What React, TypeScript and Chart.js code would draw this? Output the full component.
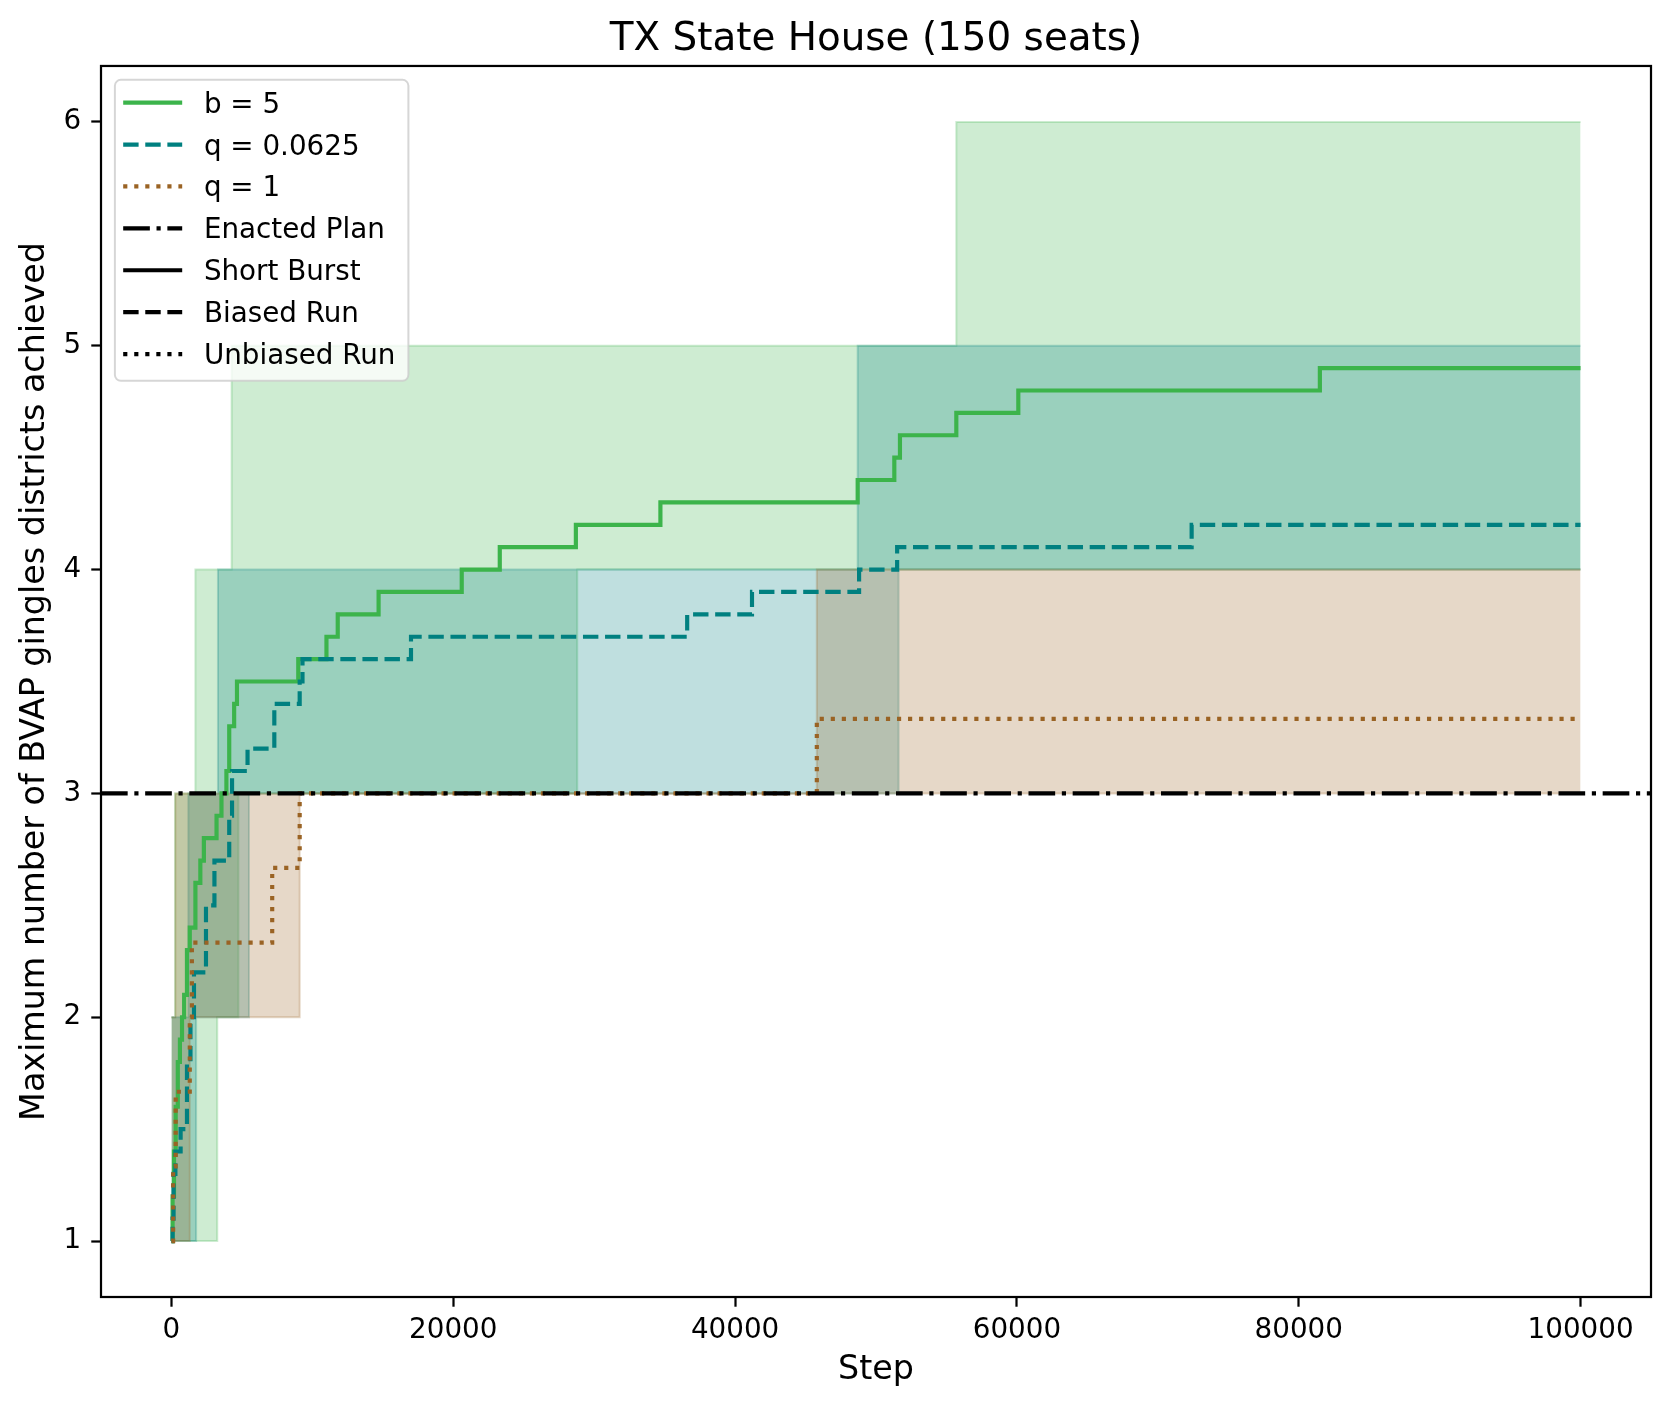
import React, { useEffect, useRef } from "react";
import { Chart, registerables } from "chart.js";

Chart.register(...registerables);

// Running means over the runs; every value holds until the next step
const burstSteps = [0, 80, 180, 300, 450, 600, 750, 900, 1100, 1300, 1700, 2050, 2300, 3200, 3550, 3900, 4100, 4450, 4650, 9000, 11000, 11800, 14700, 20600, 23300, 28700, 34700, 48700, 51300, 51700, 55700, 60100, 81500, 100000];
const burstMean = [1.0, 1.2, 1.4, 1.6, 1.8, 1.9, 2.0, 2.1, 2.3, 2.4, 2.6, 2.7, 2.8, 2.9, 3.0, 3.1, 3.3, 3.4, 3.5, 3.6, 3.7, 3.8, 3.9, 4.0, 4.1, 4.2, 4.3, 4.4, 4.5, 4.6, 4.7, 4.8, 4.9, 4.9];

const biasedSteps = [0, 80, 150, 280, 650, 1100, 1350, 1600, 2450, 3050, 4100, 4300, 5400, 7300, 9100, 9300, 17000, 36600, 41200, 48800, 51500, 72400, 100000];
const biasedMean = [1.0, 1.1, 1.3, 1.4, 1.5, 1.8, 2.0, 2.2, 2.5, 2.7, 2.9, 3.1, 3.2, 3.4, 3.5, 3.6, 3.7, 3.8, 3.9, 4.0, 4.1, 4.2, 4.2];

const unbiasedSteps = [0, 120, 300, 1300, 1450, 7150, 9100, 45800, 100000];
const unbiasedMean = [1.0, 1.333, 1.667, 2.0, 2.333, 2.667, 3.0, 3.333, 3.333];

// Min / max envelopes over the runs
const burstBandSteps = [0, 250, 1700, 3250, 4270, 4750, 28800, 55700, 100000];
const burstBandMax = [2, 3, 4, 4, 5, 5, 5, 6, 6];
const burstBandMin = [1, 1, 1, 2, 2, 3, 4, 4, 4];

const biasedBandSteps = [0, 1200, 1750, 3300, 5500, 48700, 51600, 100000];
const biasedBandMax = [2, 3, 3, 4, 4, 5, 5, 5];
const biasedBandMin = [1, 1, 2, 2, 3, 3, 4, 4];

const unbiasedBandSteps = [0, 280, 1300, 9100, 45800, 100000];
const unbiasedBandMax = [2, 3, 3, 3, 4, 4];
const unbiasedBandMin = [1, 1, 2, 3, 3, 3];

const enactedValue = 3;

const xTicks = [0, 20000, 40000, 60000, 80000, 100000];
const yTicks = [1, 2, 3, 4, 5, 6];

const legendLabels = ["b = 5", "q = 0.0625", "q = 1", "Enacted Plan", "Short Burst", "Biased Run", "Unbiased Run"];

// styles
const PT = 200 / 72;
const LW = 1.5 * PT;
const SOLID: number[] = [];
const DASHED = [3.7 * LW, 1.6 * LW];
const DOTTED = [1 * LW, 1.65 * LW];
const DASHDOT = [6.4 * LW, 1.6 * LW, 1 * LW, 1.6 * LW];
const GREEN = "#3cb44b";
const TEAL = "#008080";
const BROWN = "#9a6324";
const GREEN_A = "rgba(60,180,75,0.25)";
const TEAL_A = "rgba(0,128,128,0.25)";
const BROWN_A = "rgba(154,99,36,0.25)";
const FONT = "'DejaVu Sans', sans-serif";
const X_MIN = -5000;
const X_MAX = 105000;

const legendStyles = [
  { color: GREEN, dash: SOLID },
  { color: TEAL, dash: DASHED },
  { color: BROWN, dash: DOTTED },
  { color: "#000", dash: DASHDOT },
  { color: "#000", dash: SOLID },
  { color: "#000", dash: DASHED },
  { color: "#000", dash: DOTTED },
];

const pts = (xs: number[], ys: number[]) => xs.map((x, i) => ({ x, y: ys[i] }));

const meanLine = (label: string, xs: number[], ys: number[], color: string, dash: number[]) => ({
  label,
  data: pts(xs, ys),
  borderColor: color,
  backgroundColor: color,
  borderWidth: LW,
  borderDash: dash,
  stepped: "before" as const,
  pointRadius: 0,
  fill: false,
  order: 0,
});

const bandEdge = (xs: number[], ys: number[], rgba: string, fill: string | boolean) => ({
  label: "",
  data: pts(xs, ys),
  borderColor: rgba,
  backgroundColor: rgba,
  borderWidth: 2,
  stepped: "before" as const,
  pointRadius: 0,
  fill,
  order: 1,
});

const framePlugin = {
  id: "frame",
  afterDatasetsDraw(chart: any) {
    const { ctx, chartArea: a } = chart;
    ctx.save();
    ctx.strokeStyle = "#000";
    ctx.lineWidth = 0.8 * PT;
    ctx.strokeRect(a.left, a.top, a.right - a.left, a.bottom - a.top);
    ctx.restore();
  },
};

const legendPlugin = {
  id: "cornerLegend",
  afterDraw(chart: any) {
    const { ctx, chartArea } = chart;
    const fs = 10 * PT;
    ctx.save();
    ctx.font = `${fs}px ${FONT}`;
    const textW = Math.max(...legendLabels.map((t) => ctx.measureText(t).width));
    const x0 = chartArea.left + 0.5 * fs;
    const y0 = chartArea.top + 0.5 * fs;
    const w = 89 + textW + 13;
    const rowH = 41.9;
    const h = 22.3 + rowH * (legendLabels.length - 1) + 27.3;
    const r = 6;
    ctx.beginPath();
    ctx.moveTo(x0 + r, y0);
    ctx.arcTo(x0 + w, y0, x0 + w, y0 + h, r);
    ctx.arcTo(x0 + w, y0 + h, x0, y0 + h, r);
    ctx.arcTo(x0, y0 + h, x0, y0, r);
    ctx.arcTo(x0, y0, x0 + w, y0, r);
    ctx.closePath();
    ctx.fillStyle = "rgba(255,255,255,0.8)";
    ctx.fill();
    ctx.strokeStyle = "rgba(204,204,204,0.8)";
    ctx.lineWidth = 2;
    ctx.stroke();
    legendLabels.forEach((label, i) => {
      const cy = y0 + 22.8 + i * rowH;
      const st = legendStyles[i];
      ctx.beginPath();
      ctx.setLineDash(st.dash);
      ctx.lineDashOffset = 0;
      ctx.strokeStyle = st.color;
      ctx.lineWidth = LW;
      ctx.lineCap = "butt";
      ctx.moveTo(x0 + 8.3, cy);
      ctx.lineTo(x0 + 67.3, cy);
      ctx.stroke();
      ctx.setLineDash([]);
      ctx.fillStyle = "#000";
      ctx.textBaseline = "alphabetic";
      ctx.textAlign = "left";
      ctx.fillText(label, x0 + 89, cy + 0.36 * fs);
    });
    ctx.restore();
  },
};

export default function App() {
  const canvasRef = useRef<HTMLCanvasElement | null>(null);

  useEffect(() => {
    if (!canvasRef.current) return;
    Chart.defaults.font.family = FONT;
    Chart.defaults.color = "#000";

    const datasets: any[] = [
      {
        label: "Enacted Plan",
        data: [
          { x: X_MIN, y: enactedValue },
          { x: X_MAX, y: enactedValue },
        ],
        borderColor: "#000",
        borderWidth: LW,
        borderDash: DASHDOT,
        pointRadius: 0,
        fill: false,
        order: 0,
      },
      meanLine("q = 1", unbiasedSteps, unbiasedMean, BROWN, DOTTED),
      meanLine("q = 0.0625", biasedSteps, biasedMean, TEAL, DASHED),
      meanLine("b = 5", burstSteps, burstMean, GREEN, SOLID),
      bandEdge(unbiasedBandSteps, unbiasedBandMax, BROWN_A, "+1"),
      bandEdge(unbiasedBandSteps, unbiasedBandMin, BROWN_A, false),
      bandEdge(biasedBandSteps, biasedBandMax, TEAL_A, "+1"),
      bandEdge(biasedBandSteps, biasedBandMin, TEAL_A, false),
      bandEdge(burstBandSteps, burstBandMax, GREEN_A, "+1"),
      bandEdge(burstBandSteps, burstBandMin, GREEN_A, false),
    ];

    const tickFont = { size: 10 * PT, family: FONT };
    const labelFont = { size: 12 * PT, family: FONT };

    const chart = new Chart(canvasRef.current, {
      type: "line",
      data: { datasets },
      options: {
        animation: false,
        responsive: true,
        maintainAspectRatio: false,
        events: [],
        layout: { padding: { top: 0, left: 0, right: 20, bottom: 0 } },
        plugins: {
          legend: { display: false },
          tooltip: { enabled: false },
          title: {
            display: true,
            text: "TX State House (150 seats)",
            fullSize: false,
            color: "#000",
            font: { size: 14 * PT, family: FONT, weight: "normal" },
            padding: { top: 17, bottom: 2.3 },
          },
        },
        scales: {
          x: {
            type: "linear",
            min: X_MIN,
            max: X_MAX,
            afterBuildTicks: (scale: any) => {
              scale.ticks = xTicks.map((v) => ({ value: v }));
            },
            afterFit: (scale: any) => {
              scale.height = 113;
            },
            ticks: {
              callback: (v: any) => String(v),
              font: tickFont,
              color: "#000",
              padding: 7,
              maxRotation: 0,
              minRotation: 0,
              autoSkip: false,
            },
            grid: {
              display: true,
              drawOnChartArea: false,
              drawTicks: true,
              tickLength: 3.5 * PT,
              tickWidth: 0.8 * PT,
              tickColor: "#000",
            },
            border: { display: false },
            title: {
              display: true,
              text: "Step",
              font: labelFont,
              color: "#000",
              padding: { top: 0, bottom: 20 },
            },
          },
          y: {
            type: "linear",
            min: 0.75,
            max: 6.25,
            afterBuildTicks: (scale: any) => {
              scale.ticks = yTicks.map((v) => ({ value: v }));
            },
            afterFit: (scale: any) => {
              scale.width = 101;
            },
            ticks: {
              callback: (v: any) => String(v),
              font: tickFont,
              color: "#000",
              padding: 10,
              autoSkip: false,
            },
            grid: {
              display: true,
              drawOnChartArea: false,
              drawTicks: true,
              tickLength: 3.5 * PT,
              tickWidth: 0.8 * PT,
              tickColor: "#000",
            },
            border: { display: false },
            title: {
              display: true,
              text: "Maximum number of BVAP gingles districts achieved",
              font: labelFont,
              color: "#000",
              padding: { top: 15, bottom: 0 },
            },
          },
        },
      } as any,
      plugins: [framePlugin, legendPlugin],
    });

    return () => {
      chart.destroy();
    };
  }, []);

  return (
    <div style={{ position: "absolute", left: 0, top: 0, width: 1671, height: 1410, background: "#fff" }}>
      <canvas ref={canvasRef} />
    </div>
  );
}
